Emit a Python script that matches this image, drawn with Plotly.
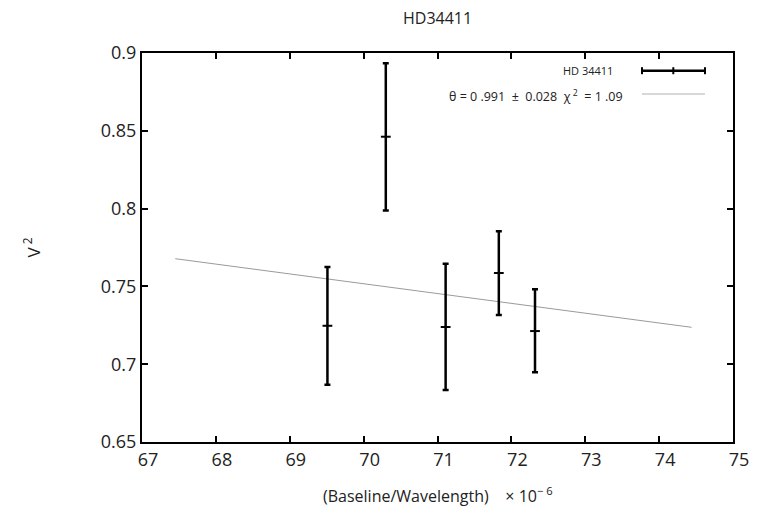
import plotly.graph_objects as go

# Data
baseline = [69.51, 70.30, 71.11, 71.83, 72.32]
v2 = [0.7247, 0.8462, 0.7239, 0.7586, 0.7213]
err_plus = [0.0378, 0.0472, 0.0407, 0.0268, 0.0268]
err_minus = [0.0379, 0.0475, 0.0405, 0.0270, 0.0265]

fit_x = [67.45, 74.44]
fit_y = [0.7678, 0.7237]

x_ticks = [67, 68, 69, 70, 71, 72, 73, 74, 75]
y_ticks = [0.65, 0.7, 0.75, 0.8, 0.85, 0.9]
y_ticktext = ["0.65", "0.7", "0.75", "0.8", "0.85", "0.9"]

FONT = "Open Sans"

fig = go.Figure()
fig.add_trace(go.Scatter(
    x=fit_x, y=fit_y, mode="lines",
    line=dict(color="#9a9a9a", width=1),
    showlegend=False, hoverinfo="skip",
))
fig.add_trace(go.Scatter(
    x=baseline, y=v2, mode="markers",
    marker=dict(symbol="line-ew", size=7, color="black",
                line=dict(color="black", width=2)),
    error_y=dict(type="data", symmetric=False, array=err_plus,
                 arrayminus=err_minus, color="black", thickness=2.5, width=3),
    showlegend=False,
))

axis_common = dict(
    showline=True, linecolor="black", linewidth=2, mirror="allticks",
    ticks="inside", ticklen=6, tickwidth=2, tickcolor="black",
    showgrid=False, zeroline=False,
    tickfont=dict(family=FONT, size=18, color="#222"),
)

fig.update_xaxes(range=[67, 75], tickvals=x_ticks, ticklabelshift=6, **axis_common)
fig.update_yaxes(range=[0.65, 0.9], tickvals=y_ticks, ticktext=y_ticktext, **axis_common)

annotations = [
    dict(text="HD34411", x=0.5, y=1.0, xref="paper", yref="paper",
         yanchor="bottom", xanchor="center", yshift=22, showarrow=False,
         font=dict(family=FONT, size=16, color="#222")),
    dict(text="(Baseline/Wavelength)    × 10<sup>− 6</sup>", x=0.5, y=0, xref="paper", yref="paper",
         xanchor="center", yanchor="top", yshift=-39, showarrow=False,
         font=dict(family=FONT, size=16, color="#222")),
    dict(text="V<sup> 2</sup>", x=0, y=0.5, xref="paper", yref="paper",
         xanchor="center", yanchor="middle", xshift=-110, textangle=-90, showarrow=False,
         font=dict(family=FONT, size=17, color="#222")),
    dict(text="HD 34411", x=0.800, y=0.9545, xref="paper", yref="paper",
         xanchor="right", yanchor="middle", showarrow=False,
         font=dict(family=FONT, size=11, color="#222")),
    dict(text="θ = 0 .991  ±  0.028  χ<sup> 2</sup>  = 1 .09", x=0.817, y=0.889, xref="paper", yref="paper",
         xanchor="right", yanchor="middle", showarrow=False,
         font=dict(family=FONT, size=12.5, color="#222")),
]

ly = 0.9545
shapes = [
    dict(type="line", xref="paper", yref="paper", x0=0.846, x1=0.9526, y0=ly, y1=ly,
         line=dict(color="black", width=2.5)),
]
for xx in [0.846, 0.899, 0.9526]:
    shapes.append(dict(type="line", xref="paper", yref="paper", x0=xx, x1=xx,
                       y0=ly - 0.009, y1=ly + 0.009, line=dict(color="black", width=2)))
shapes.append(dict(type="line", xref="paper", yref="paper", x0=0.846, x1=0.9526,
                   y0=0.8946, y1=0.8946, line=dict(color="#b0b0b0", width=1)))

fig.update_layout(
    width=767, height=509,
    margin=dict(l=142, r=34, t=53, b=67),
    paper_bgcolor="white", plot_bgcolor="white",
    annotations=annotations, shapes=shapes,
    showlegend=False,
)

fig.write_html("out.html")
